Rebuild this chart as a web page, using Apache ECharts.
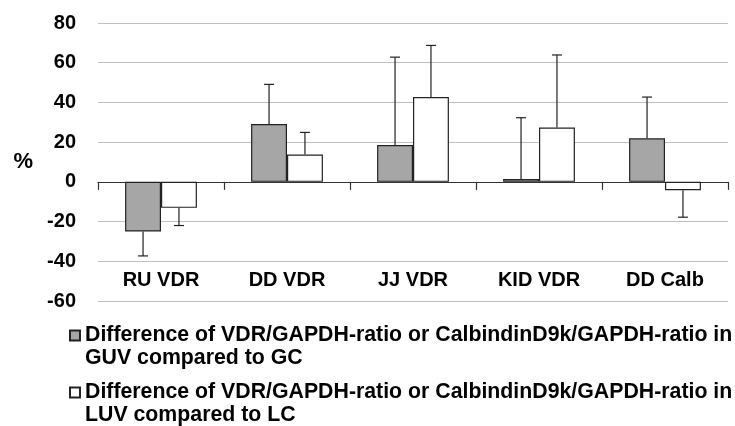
<!DOCTYPE html>
<html>
<head>
<meta charset="utf-8">
<script src="https://cdn.jsdelivr.net/npm/echarts@6/dist/echarts.min.js"></script>
<style>
  html, body { margin: 0; padding: 0; background: #fff; }
  #chart { width: 735px; height: 426px; }
</style>
</head>
<body>
<div id="chart"></div>
<script>
  // data
  var categories = ['RU VDR', 'DD VDR', 'JJ VDR', 'KID VDR', 'DD Calb']
  var guvValues = [-25.0, 29.1, 18.5, 1.4, 21.9]
  var guvErrors = [12.3, 20.0, 44.3, 30.9, 20.8]
  var luvValues = [-13.1, 13.8, 42.7, 27.4, -4.2]
  var luvErrors = [8.9, 11.1, 26.0, 36.5, 13.6]
  var yTicks = { min: -60, max: 80, interval: 20 }

  var guvName = 'Difference of VDR/GAPDH-ratio or CalbindinD9k/GAPDH-ratio in\nGUV compared to GC'
  var luvName = 'Difference of VDR/GAPDH-ratio or CalbindinD9k/GAPDH-ratio in\nLUV compared to LC'

  var FONT = '"Liberation Sans", Arial, sans-serif'
  var CAT_GAP = 0.43

  // error bars point away from zero
  function errorData (values, errors) {
    return values.map(function (v, i) {
      return [i, v, v + (v < 0 ? -errors[i] : errors[i])]
    })
  }

  function errorRender (side) {
    return function (params, api) {
      var band = api.size([1, 0])[0]
      var bw = band * (1 - CAT_GAP) / 2
      var from = api.coord([api.value(0), api.value(1)])
      var to = api.coord([api.value(0), api.value(2)])
      var x = from[0] + side * bw / 2
      var cap = 5
      var style = { stroke: '#222', lineWidth: 1.2 }
      return {
        type: 'group',
        children: [
          { type: 'line', shape: { x1: x, y1: from[1], x2: x, y2: to[1] }, style: style },
          { type: 'line', shape: { x1: x - cap, y1: to[1], x2: x + cap, y2: to[1] }, style: style }
        ]
      }
    }
  }

  // legend icon sits on the first text line: pad the block with an empty line on top
  function legendItem (name, top) {
    return {
      data: [name],
      orient: 'vertical',
      left: 69,
      top: top,
      padding: 0,
      itemWidth: 10,
      itemHeight: 10,
      icon: 'rect',
      formatter: function (n) { return '\n' + n },
      textStyle: { fontFamily: FONT, fontSize: 21.3, fontWeight: 'bold', color: '#000', lineHeight: 23 }
    }
  }

  var chart = echarts.init(document.getElementById('chart'))
  chart.setOption({
    animation: false,
    backgroundColor: '#fff',
    textStyle: { fontFamily: FONT },
    grid: { left: 98, right: 7, top: 23, bottom: 125, containLabel: false },
    legend: [legendItem(guvName, 301), legendItem(luvName, 358)],
    xAxis: [{
      type: 'category',
      data: categories,
      axisLine: { onZero: true, lineStyle: { color: '#333', width: 1.2 } },
      axisTick: { show: true, interval: 0, length: 8, lineStyle: { color: '#333', width: 1.2 } },
      axisLabel: { show: false },
      splitLine: { show: false }
    }, {
      type: 'category',
      data: categories,
      position: 'bottom',
      axisLine: { show: false, onZero: false },
      axisTick: { show: false },
      axisLabel: {
        inside: true,
        margin: 11,
        interval: 0,
        fontFamily: FONT,
        fontSize: 20,
        fontWeight: 'bold',
        color: '#000'
      },
      splitLine: { show: false }
    }],
    yAxis: {
      type: 'value',
      min: yTicks.min,
      max: yTicks.max,
      interval: yTicks.interval,
      name: '%',
      nameLocation: 'middle',
      nameRotate: 0,
      nameGap: 65,
      nameTextStyle: { fontFamily: FONT, fontSize: 22, fontWeight: 'bold', color: '#000', padding: [6, 0, 0, 0] },
      axisLine: { show: false },
      axisTick: { show: false },
      axisLabel: { margin: 22, fontFamily: FONT, fontSize: 20, fontWeight: 'bold', color: '#000' },
      splitLine: { lineStyle: { color: '#c0c0c0', width: 1.2 } }
    },
    series: [{
      name: guvName,
      type: 'bar',
      data: guvValues,
      barGap: '0%',
      barCategoryGap: (CAT_GAP * 100) + '%',
      itemStyle: { color: '#a6a6a6', borderColor: '#222', borderWidth: 1.2 }
    }, {
      name: luvName,
      type: 'bar',
      data: luvValues,
      barGap: '0%',
      barCategoryGap: (CAT_GAP * 100) + '%',
      itemStyle: { color: '#fff', borderColor: '#222', borderWidth: 1.2 }
    }, {
      name: 'guv-err',
      type: 'custom',
      data: errorData(guvValues, guvErrors),
      renderItem: errorRender(-1),
      encode: { x: 0, y: 1 },
      z: 5
    }, {
      name: 'luv-err',
      type: 'custom',
      data: errorData(luvValues, luvErrors),
      renderItem: errorRender(1),
      encode: { x: 0, y: 1 },
      z: 5
    }]
  })
</script>
</body>
</html>
